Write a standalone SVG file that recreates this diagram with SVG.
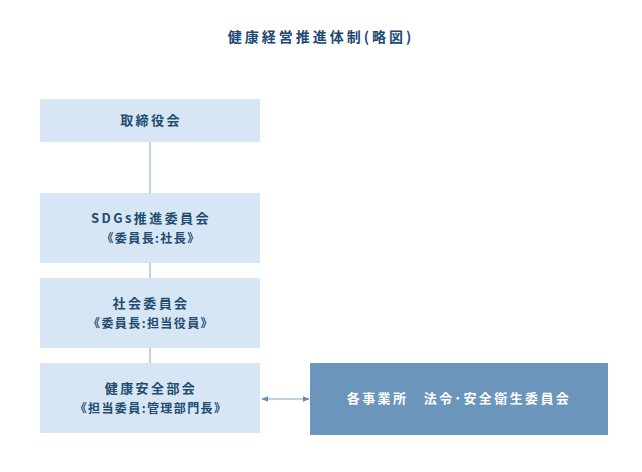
<svg xmlns="http://www.w3.org/2000/svg" width="642" height="472" viewBox="0 0 642 472">
<style>
text{font-family:"Noto Sans CJK JP","Noto Sans",sans-serif;font-weight:bold;text-anchor:middle}
.t{fill:#1d4a73;font-size:14px;letter-spacing:3px}
.n{fill:#224b70;font-size:13px;letter-spacing:2.4px}
.s{fill:#224b70;font-size:12px;letter-spacing:1.4px}
.lb{fill:#d7e6f4}
.db{fill:#6b95ba}
.w{fill:#ffffff;font-size:13px;letter-spacing:2.4px}
.c{stroke:#7aa4c9;stroke-width:1;fill:none}
</style>
<defs>
<marker id="ah" viewBox="0 0 10 10" refX="9" refY="5" markerWidth="7" markerHeight="7" orient="auto-start-reverse" markerUnits="userSpaceOnUse">
<path d="M0,1 L10,5 L0,9 Z" fill="#5f8fba"/>
</marker>
</defs>
<text class="t" x="321" y="42">健康経営推進体制(略図)</text>
<g id="connectors">
<line class="c" x1="150" y1="142" x2="150" y2="193"/>
<line class="c" x1="150" y1="263" x2="150" y2="278"/>
<line class="c" x1="150" y1="348" x2="150" y2="363"/>
<line class="c" x1="262" y1="399" x2="309" y2="399" marker-start="url(#ah)" marker-end="url(#ah)"/>
</g>
<g id="node-board">
<rect class="lb" x="40" y="99" width="220" height="43"/>
<text class="n" x="151" y="125">取締役会</text>
</g>
<g id="node-sdgs">
<rect class="lb" x="40" y="193" width="220" height="70"/>
<text class="n" x="151" y="223">SDGs推進委員会</text>
<text class="s" x="151" y="243">《委員長:社長》</text>
</g>
<g id="node-social">
<rect class="lb" x="40" y="278" width="220" height="70"/>
<text class="n" x="151" y="308">社会委員会</text>
<text class="s" x="151" y="328">《委員長:担当役員》</text>
</g>
<g id="node-health">
<rect class="lb" x="40" y="363" width="220" height="70"/>
<text class="n" x="151" y="393">健康安全部会</text>
<text class="s" x="151" y="413">《担当委員:管理部門長》</text>
</g>
<g id="node-sites">
<rect class="db" x="310" y="363" width="298" height="72"/>
<text class="w" x="459" y="403">各事業所　法令･安全衛生委員会</text>
</g>
</svg>
